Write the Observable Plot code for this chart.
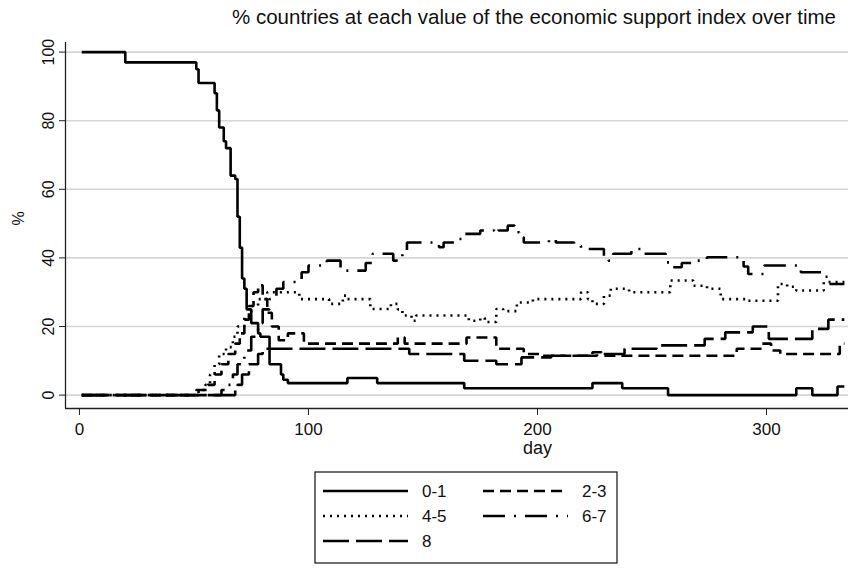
<!DOCTYPE html>
<html><head><meta charset="utf-8">
<script src="https://cdn.jsdelivr.net/npm/d3@7"></script>
<script src="https://cdn.jsdelivr.net/npm/@observablehq/plot@0.6"></script>
<style>
body{margin:0;background:#fff;font-family:"Liberation Sans",Arial,sans-serif;}
#wrap{position:relative;width:859px;height:582px;overflow:hidden;background:#fff;}
#title{position:absolute;top:5px;left:232px;white-space:nowrap;font-size:20.5px;color:#111;}
#chart{position:absolute;left:0;top:0;}
#legend{position:absolute;left:0;top:0;}
</style></head><body>
<div id="wrap">
<div id="chart"></div>
<div id="title">% countries at each value of the economic support index over time</div>
<svg id="legend" width="859" height="582"></svg>
</div>
<script>
// ---- data: [day, % of countries] change points (step-after) ----
const categories = ["0-1", "2-3", "4-5", "6-7", "8"];
const xTicks = [0, 100, 200, 300];
const yTicks = [0, 20, 40, 60, 80, 100];

const s01 = [[1,100],[20,97],[51,95],[52,91],[59,88],[60,83],[61,78],[63,74],[64,72],[66,64],[68,63],[69,52],[70,43],[71,34],[72,31],[73,25],[75,21],[78,18],[79,17],[83,9],[88,6],[89,4.5],[91,3.5],[117,5],[130,3.5],[168,2],[224,3.5],[237,2],[257,0],[313,2],[320,0],[331,2.5],[334,2.5]];
const s23 = [[1,0],[51,1.5],[56,3],[59,6],[62,9],[65,12],[68,15],[70,18],[72,22],[74,26],[76,30],[78,32],[80,28],[82,24],[84,20],[87,16],[91,18],[98,15],[139,16.8],[142,15],[169,16.8],[182,13.5],[194,12],[203,11.5],[224,12.5],[228,11.5],[287,13.5],[298,15],[302,13],[306,12],[332,15],[334,15]];
const s45 = [[1,0],[52,1.5],[55,3],[57,6],[59,9],[61,12],[64,14],[67,17],[69,20],[72,23],[75,26],[78,28],[82,30],[96,28],[109,26.6],[115,29],[117,28],[127,25.1],[136,26.6],[139,25],[141,23.2],[145,21.7],[147,23.2],[170,21.7],[175,22.5],[177,21.3],[182,25.1],[185,24.5],[191,27],[198,28],[219,30],[222,28],[224,26.6],[229,29],[232,31],[240,30],[258,33.4],[268,31.9],[274,31],[280,28],[292,27.5],[305,32.4],[309,31.6],[313,30.5],[325,33],[334,33]];
const s67 = [[1,0],[62,1.5],[64,3],[67,6],[69,9],[72,13],[75,17],[78,21],[80,25],[83,28],[86,31],[89,33],[97,35.8],[100,37.8],[108,39.2],[114,36.3],[125,38.5],[128,41.2],[137,39.2],[141,42],[143,44.5],[157,43.1],[159,44.5],[165,45.5],[167,47],[175,48],[181,48.9],[183,48],[187,49.4],[190,47.5],[192,46],[194,44.5],[205,45.5],[208,44.5],[216,43.5],[219,42.6],[229,40.5],[231,39.2],[233,41.2],[241,42.6],[245,41.2],[256,38.7],[259,37.3],[263,38.5],[269,39.2],[274,40.2],[288,39.2],[290,37.5],[292,35.3],[299,37.8],[315,35.8],[324,34.5],[327,32.4],[334,32.4]];
const s8  = [[1,0],[68,1.5],[69,3],[71,6],[74,9],[78,12],[80,13.5],[144,12],[168,10],[182,9],[193,11],[206,11.5],[226,12],[238,13.5],[252,14.5],[273,16.4],[282,18.3],[294,20],[301,16.4],[320,19.3],[327,22],[334,22]];

const seriesValues = [s01, s23, s45, s67, s8];
// ---- styles ----
const dashes = {"0-1": null, "2-3": "11,6", "4-5": "2,5", "6-7": "22,9,2,9", "8": "26,7"};
const LW = 2.6;

const rows = [];
categories.forEach((c, i) => seriesValues[i].forEach(([d, v]) => rows.push({series: c, day: d, pct: v})));

const lineMarks = categories.map(c => Plot.line(rows.filter(r => r.series === c), {
  x: "day", y: "pct", curve: "step-after", stroke: "#000", strokeWidth: LW,
  strokeDasharray: dashes[c] || undefined, strokeLinejoin: "miter", strokeLinecap: "butt"
}));

const X0 = -6.1, X1 = 335.8, Y0 = -3.9, Y1 = 102.8;
const chart = Plot.plot({
  width: 859, height: 470,
  marginLeft: 65, marginRight: 11, marginTop: 42, marginBottom: 62,
  x: {domain: [X0, X1]},
  y: {domain: [Y0, Y1]},
  style: {fontFamily: "'Liberation Sans', Arial, sans-serif", fontSize: "16px", color: "#111", background: "transparent"},
  marks: [
    Plot.gridY(yTicks, {stroke: "#d6d6d6", strokeOpacity: 1, strokeWidth: 1.6}),
    Plot.ruleX([X0], {stroke: "#222", strokeWidth: 1.3}),
    Plot.ruleY([Y0], {stroke: "#222", strokeWidth: 1.3}),
    Plot.axisX({ticks: xTicks, tickSize: 7, tickPadding: 7, label: null, fontSize: 17, stroke: "#222"}),
    Plot.axisY({ticks: yTicks, tickSize: 6, tickPadding: 6, tickRotate: -90, label: null, fontSize: 16, stroke: "#222"}),
    Plot.text([200], {x: d => d, frameAnchor: "bottom", dy: 40, text: () => "day", fontSize: 18, lineAnchor: "middle"}),
    Plot.text(["%"], {frameAnchor: "left", dx: -47, text: d => d, fontSize: 16, rotate: -90}),
    ...lineMarks
  ]
});
document.getElementById("chart").appendChild(chart);

// ---- legend ----
const lg = d3.select("#legend");
lg.append("rect").attr("x", 315).attr("y", 472).attr("width", 302).attr("height", 91)
  .attr("fill", "#fff").attr("stroke", "#222").attr("stroke-width", 1.3);
const pos = [[323, 491], [483, 491], [323, 516], [483, 516], [323, 541]];
categories.forEach((c, i) => {
  const [x, y] = pos[i];
  const l = lg.append("line").attr("x1", x).attr("x2", x + 85).attr("y1", y).attr("y2", y)
    .attr("stroke", "#000").attr("stroke-width", LW);
  if (dashes[c]) l.attr("stroke-dasharray", dashes[c]);
  lg.append("text").attr("x", x + 99).attr("y", y).attr("dy", "0.35em")
    .attr("font-size", 17).attr("fill", "#111").attr("font-family", "'Liberation Sans', Arial, sans-serif").text(c);
});
</script>
</body></html>
